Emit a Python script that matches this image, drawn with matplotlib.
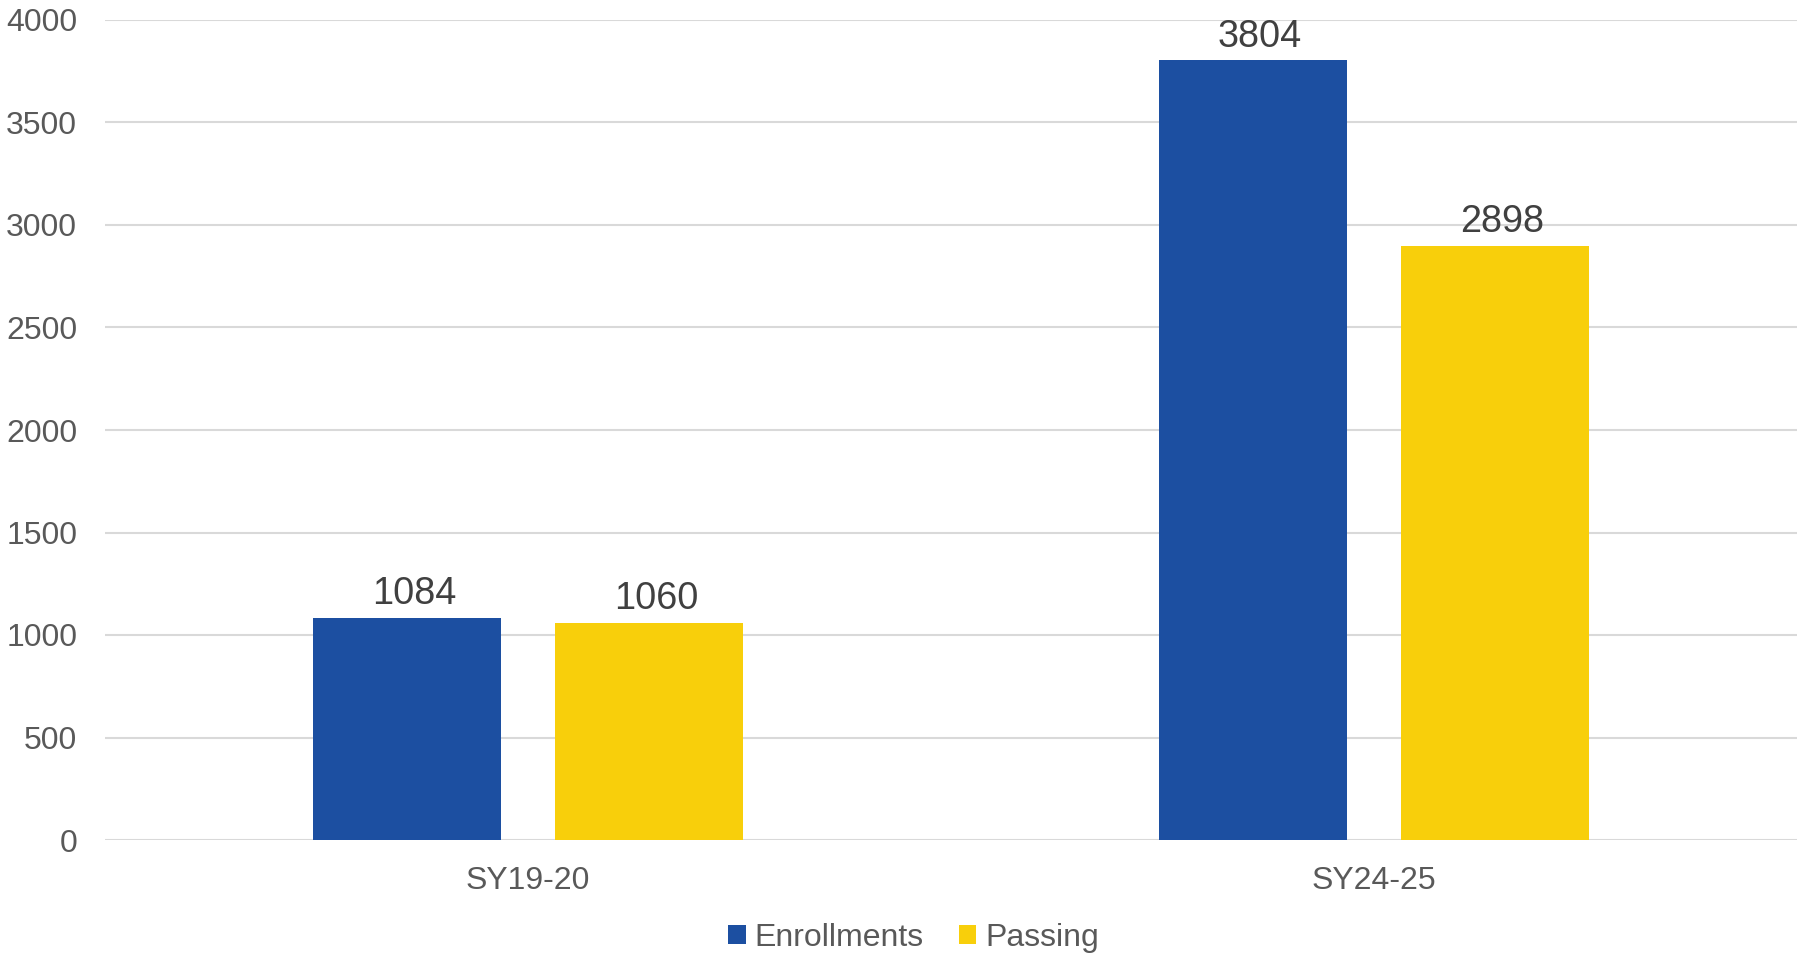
import matplotlib
matplotlib.use("Agg")
import matplotlib.pyplot as plt
import numpy as np

categories = ["SY19-20", "SY24-25"]
enrollments = [1084, 3804]
passing = [1060, 2898]
series_names = ["Enrollments", "Passing"]
yticks = [0, 500, 1000, 1500, 2000, 2500, 3000, 3500, 4000]

plt.rcParams['font.family'] = ['Liberation Sans', 'DejaVu Sans']

fig = plt.figure(figsize=(17.99, 9.55), dpi=100)
ax = fig.add_axes([105/1799, (955-840)/955, (1797-105)/1799, (840-20)/955])

x = np.arange(len(categories))
w = 0.223
off = 0.143
blue = "#1C4FA1"
yellow = "#F8CF0B"
b1 = ax.bar(x - off, enrollments, w, color=blue, label=series_names[0], zorder=3)
b2 = ax.bar(x + off, passing, w, color=yellow, label=series_names[1], zorder=3)

for bars in (b1, b2):
    for rect, v in zip(bars.patches, bars.datavalues):
        ax.annotate(str(int(v)), (rect.get_x() + rect.get_width() / 2, rect.get_height()),
                    xytext=(5, 4), textcoords='offset points', ha='center', va='bottom',
                    fontsize=27.3, color="#404040")

ax.set_xlim(-0.5, 1.5)
ax.set_ylim(0, 4000)
ax.set_yticks(yticks)
ax.set_xticks(x)
ax.set_xticklabels(categories)
ax.grid(axis='y', color="#d9d9d9", linewidth=1.5, zorder=0)
ax.set_axisbelow(True)
for s in ax.spines.values():
    s.set_visible(False)
ax.tick_params(axis='y', length=0, pad=20, labelsize=23, labelcolor="#595959")
ax.tick_params(axis='x', length=0, pad=19, labelsize=23, labelcolor="#595959")

leg = fig.legend(loc='center', bbox_to_anchor=(913.5/1799, 1 - 938/955), ncol=2, frameon=False,
                 fontsize=23, handlelength=0.55, handleheight=0.55,
                 handletextpad=0.28, columnspacing=1.1, labelcolor="#595959")

fig.savefig("out.png", dpi=100)
